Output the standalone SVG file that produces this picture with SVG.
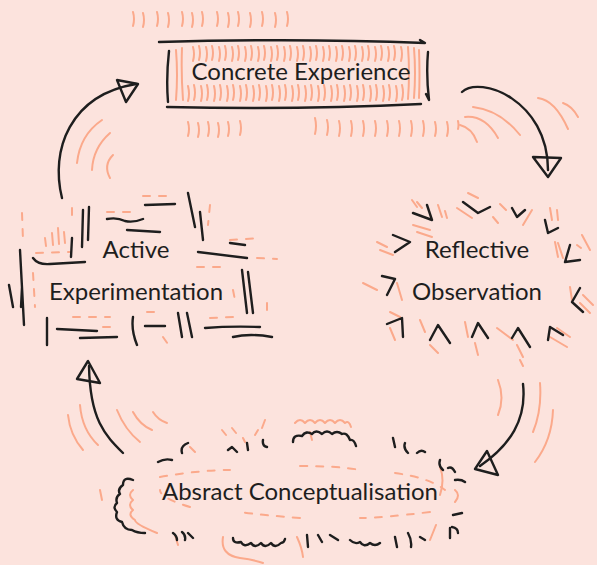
<svg xmlns="http://www.w3.org/2000/svg" width="597" height="565" viewBox="0 0 597 565">
<style>
.k{fill:none;stroke:#1e1e1e;stroke-width:2.4;stroke-linecap:round;stroke-linejoin:round}
.o{fill:none;stroke:#fba98b;stroke-width:2;stroke-linecap:round;stroke-linejoin:round}
.od{fill:none;stroke:#fba98b;stroke-width:2;stroke-linecap:round;stroke-dasharray:7 9}
.t{font-family:Lato,"Open Sans","Liberation Sans",sans-serif;font-size:24px;fill:#1e1e1e;text-anchor:middle}
</style>
<rect width="597" height="565" fill="#fce3dd"/>

<g id="connectors">
  <path class="o" d="M77,163 Q80,135 102,120 M92,170 Q93,148 110,133 M110,178 Q103,165 113,155"/>
  <path class="k" d="M62,198 C50,150 70,95 136,84"/>
  <path class="k" d="M117,80 L138,84 L126,102 Z"/>

  <path class="o" d="M460,125 Q472,128 477,142 M465,117 Q485,115 498,138 M473,107 Q500,110 520,135 M538,98 Q555,100 568,129 M563,103 Q572,106 578,117"/>
  <path class="k" d="M462,92 C480,75 548,100 548,170"/>
  <path class="k" d="M533,157 L561,158 L548,177 Z"/>

  <path class="o" d="M498,380 Q505,398 498,415 M540,383 Q542,410 533,432 M553,410 Q552,440 535,462 M520,360 L523,366"/>
  <path class="k" d="M523,384 C527,420 510,445 480,466"/>
  <path class="k" d="M475,469 L487,451 L498,475 Z"/>

  <path class="o" d="M68,415 Q70,435 83,450 M80,405 Q82,430 98,445 M117,410 Q125,430 140,442 M133,412 Q140,425 152,430 M153,412 Q158,420 167,423"/>
  <path class="k" d="M123,453 C105,435 90,420 89,366"/>
  <path class="k" d="M88,361 L77,379 L100,383 Z"/>
</g>

<g id="n-concrete">
  <path class="o" d="M133,12 q2,7 0,14 M143,13 q2,7 0,14 M157,12 q2,7 0,14 M168,13 q2,7 0,14 M182,12 q2,7 0,14 M192,13 q2,7 0,14 M202,12 q2,7 0,14 M217,12 q2,7 0,14 M228,13 q2,7 0,14 M238,12 q2,7 0,14 M250,13 q2,7 0,14 M262,12 q2,7 0,14 M275,13 q2,7 0,14 M287,12 q2,7 0,14"/>
  <path class="o" d="M188,122 q2,7 0,14 M198,123 q2,7 0,14 M208,122 q2,7 0,14 M218,123 q2,7 0,14 M228,122 q2,7 0,14 M240,121 q2,7 0,14 M315,118 q2,8 0,16 M327,120 q2,7 0,15 M339,121 q2,7 0,15 M351,121 q2,7 0,15 M363,121 q2,7 0,15 M375,121 q2,7 0,15 M387,121 q2,7 0,15 M399,121 q2,7 0,15 M411,121 q2,7 0,15 M423,121 q2,7 0,15 M435,122 q2,7 0,14 M447,122 q2,7 0,14 M458,121 q1,4 0,8"/>
  <path class="o" d="M193,47 q2,7 0,14 M199,46 q2,7 0,14 M206,47 q2,7 0,14 M212,46 q2,7 0,14 M219,47 q2,7 0,14 M225,46 q2,7 0,14 M232,47 q2,7 0,14 M238,46 q2,7 0,14 M245,47 q2,7 0,14 M251,46 q2,7 0,14 M258,47 q2,7 0,14 M264,46 q2,7 0,14 M271,47 q2,7 0,14 M277,46 q2,7 0,14 M284,47 q2,7 0,14 M290,46 q2,7 0,14 M297,47 q2,7 0,14 M303,46 q2,7 0,14 M310,47 q2,7 0,14 M316,46 q2,7 0,14 M323,47 q2,7 0,14 M329,46 q2,7 0,14 M336,47 q2,7 0,14 M342,46 q2,7 0,14 M349,47 q2,7 0,14 M355,46 q2,7 0,14 M362,47 q2,7 0,14 M368,46 q2,7 0,14 M375,47 q2,7 0,14 M381,46 q2,7 0,14 M388,47 q2,7 0,14 M394,46 q2,7 0,14 M401,47 q2,7 0,14"/>
  <path class="o" d="M188,86 q2,8 0,15 M194,85 q2,8 0,15 M201,86 q2,8 0,15 M207,85 q2,8 0,15 M214,86 q2,8 0,15 M220,85 q2,8 0,15 M227,86 q2,8 0,15 M233,85 q2,8 0,15 M240,86 q2,8 0,15 M246,85 q2,8 0,15 M253,86 q2,8 0,15 M259,85 q2,8 0,15 M266,86 q2,8 0,15 M272,85 q2,8 0,15 M279,86 q2,8 0,15 M285,85 q2,8 0,15 M292,86 q2,8 0,15 M298,85 q2,8 0,15 M305,86 q2,8 0,15 M311,85 q2,8 0,15 M318,86 q2,8 0,15 M324,85 q2,8 0,15 M331,86 q2,8 0,15 M337,85 q2,8 0,15 M344,86 q2,8 0,15 M350,85 q2,8 0,15 M357,86 q2,8 0,15 M363,85 q2,8 0,15 M370,86 q2,8 0,15 M376,85 q2,8 0,15 M383,86 q2,8 0,15 M389,85 q2,8 0,15 M396,86 q2,8 0,15 M402,85 q2,8 0,15"/>
  <path class="o" d="M176,50 q2,25 0,50 M182,48 q-1,25 1,52 M408,47 q2,26 0,52 M414,48 q2,25 0,50 M419,50 q1,25 0,48"/>
  <path class="k" d="M159,42 Q300,38 425,43 L420,40 M167,107 Q300,110 421,104 M169,51 Q166,78 168,102 M428,52 Q426,75 429,100 L426,94"/>
  <text class="t" x="301" y="80">Concrete Experience</text>
</g>

<g id="n-reflective">
  <path class="o" d="M412,200 L417,207 M417,202 L422,208 M438,205 L442,217 M445,211 L447,218 M413,225 L430,230 M417,232 L432,237 M457,208 L472,218 M468,193 L478,198 M493,217 L498,223 M500,204 L506,210 M532,210 L523,225 M550,208 L552,220 M557,210 L558,220 M555,242 L558,257 M558,243 L563,258 M582,235 L590,250 M577,245 L581,248 M570,287 L572,300 M583,295 L593,305 M580,303 L590,313 M550,337 L567,347 M557,328 L570,337 M497,328 L513,340 M517,345 L523,357 M465,322 L468,337 M475,343 L478,355 M420,320 L425,332 M430,345 L438,353 M390,312 L400,317 M390,328 L395,340 M363,283 L377,290 M397,283 L402,300 M377,242 L387,247 M380,250 L393,255"/>
  <path class="k" d="M413,213 L432,220 L427,205 M463,202 L478,213 L490,207 M512,208 L517,217 L525,210 M545,220 L548,233 L558,228 M570,245 L565,262 L580,260 M580,288 L572,302 L583,312 M548,340 L550,327 L563,335 M512,338 L518,328 L530,347 M472,337 L478,323 L488,338 M430,340 L438,325 L450,343 M387,324 L402,318 L403,337 M382,276 L395,279 L387,295 M393,235 L410,242 L395,252"/>
  <text class="t" x="477" y="258">Reflective</text>
  <text class="t" x="477" y="300">Observation</text>
</g>

<g id="n-abstract">
  <path class="od" d="M160,477 Q200,470 230,470 M300,466 Q340,466 360,470 M395,473 Q430,478 445,490 M430,512 Q380,518 360,518 M300,518 Q260,515 240,512 M190,507 Q160,498 160,490"/>
  <path class="o" d="M295,423 q5,-6 10,0 q5,-6 10,0 q5,-6 10,0 q5,-6 10,0 q5,-6 10,0 q4,-3 6,4 M222,430 L226,435 M232,428 L236,433 M243,438 L245,442 M262,428 L265,420 M255,435 L258,430 M310,432 L312,440 M133,490 q-6,5 0,10 q-6,5 0,10 q-6,5 2,10 q0,4 22,13 M223,537 Q220,555 240,558 Q255,560 263,563 M297,537 Q302,548 303,557 M175,535 L178,545 M440,467 Q445,480 440,495 M455,490 q6,5 0,12 M436,525 L430,540 M190,447 L195,452 M100,490 L102,500"/>
  <path class="k" d="M293,442 q0,-8 9,-6 q4,-6 10,-2 q4,-5 10,0 q5,-5 10,0 q5,-4 10,0 q5,-2 8,6 q4,-1 6,6 M228,450 L232,447 L237,452 M247,443 L248,450 M263,440 Q262,446 267,447 M158,462 Q165,458 172,460 M182,453 Q180,446 188,443 M393,438 L395,447 M405,443 Q403,448 408,453 M417,453 Q421,449 425,452 M440,460 Q438,466 443,470 M448,468 Q452,466 455,472 M455,480 Q461,479 465,482 M453,515 L462,513 M452,527 Q458,528 458,533 M450,528 L450,538 M233,538 q0,6 8,4 q3,6 10,1 q4,6 10,0 q4,6 10,0 q4,6 10,0 q3,0 4,-4 M307,535 L308,547 M318,535 L322,542 M330,535 L338,540 M350,540 q5,5 10,2 q4,6 10,1 q5,4 10,0 M395,537 L397,547 M408,533 Q412,540 411,547 M420,537 L425,540 M173,533 Q177,536 177,540 M182,532 Q186,535 185,540 M188,533 L193,538 M133,480 q-10,-4 -10,5 q-6,4 -3,9 q-5,3 -3,9 q-5,4 0,9 q-3,8 5,10 q2,8 10,8 q5,3 13,3"/>
  <text class="t" x="300" y="500">Absract Conceptualisation</text>
</g>

<g id="n-active">
  <path class="od" d="M22,213 L23,240 M33,273 L35,307 M107,212 L133,212 M143,196 L167,196 M210,205 L208,225 M230,240 L260,238 M257,258 L277,259 M197,267 L227,267 M267,303 L267,315 M233,290 L235,300 M210,318 L233,317 M73,317 L110,317 M103,327 L117,327 M147,312 L163,312 M163,337 L170,347 M72,208 L72,222 M36,253 L70,252"/>
  <path class="o" d="M45,238 L46,246 M52,233 L53,245 M58,228 L59,244 M64,232 L65,243"/>
  <path class="k" d="M89,207 L88,240 M83,210 L82,247 M72,238 L71,257 M33,258 Q38,265 50,264 L85,262 M20,250 L24,325 M9,285 L13,307 M22,287 L21,307 M47,318 L47,345 M107,219 q10,-2 18,2 q8,2 18,-2 M127,230 L160,232 M145,205 L175,204 M188,193 L195,227 M200,212 L203,240 M230,243 L245,245 M198,252 L247,258 M242,270 L247,313 M248,272 L253,313 M57,329 L97,331 M80,338 L117,337 M133,317 Q131,330 137,345 M145,326 L165,326 M178,313 L182,337 M187,313 L192,337 M205,328 Q230,326 260,327 M233,337 Q250,333 272,337"/>
  <text class="t" x="136" y="258">Active</text>
  <text class="t" x="136" y="300">Experimentation</text>
</g>
</svg>
